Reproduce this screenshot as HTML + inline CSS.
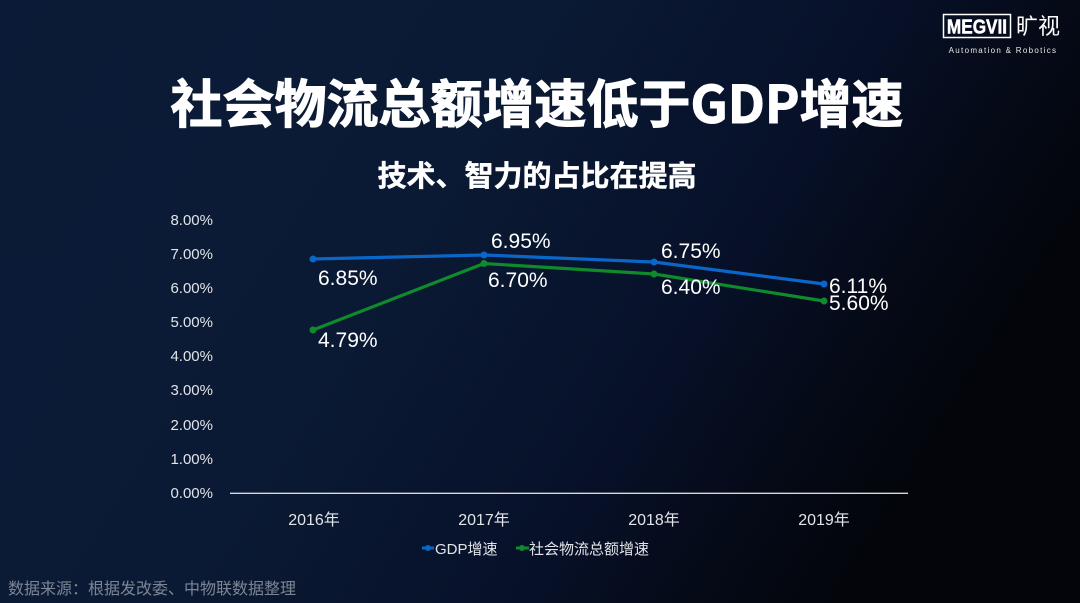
<!DOCTYPE html>
<html><head><meta charset="utf-8"><style>
html,body{margin:0;padding:0;}
body{width:1080px;height:603px;overflow:hidden;background:#0b1a35;}
svg{display:block;font-family:"Liberation Sans","Noto Sans CJK SC",sans-serif;}
</style></head><body>
<svg width="1080" height="603" viewBox="0 0 1080 603" xmlns="http://www.w3.org/2000/svg">
<defs>
<linearGradient id="bg" x1="0" y1="0" x2="1" y2="0.35">
<stop offset="0" stop-color="#0b1b37"/>
<stop offset="0.45" stop-color="#0b1a34"/>
<stop offset="0.72" stop-color="#07112a" />
<stop offset="0.88" stop-color="#050a17"/>
<stop offset="1" stop-color="#03050b"/>
</linearGradient>
</defs>
<rect width="1080" height="603" fill="url(#bg)"/>

<!-- logo -->
<rect x="943.5" y="14.5" width="67" height="23" fill="none" stroke="#ffffff" stroke-width="1.5"/>
<text x="977" y="33.5" text-anchor="middle" fill="#fff" stroke="#fff" stroke-width="0.5" font-size="20" font-weight="bold" transform="translate(977 0) scale(0.86 1) translate(-977 0)">MEGVII</text>
<text x="1038" y="34" text-anchor="middle" fill="#fff" font-size="22" font-family="Noto Sans CJK SC, sans-serif">旷视</text>
<text x="1003" y="53" text-anchor="middle" fill="#e8e8e8" font-size="8" letter-spacing="1.3">Automation &amp; Robotics</text>

<!-- titles -->
<text x="537" y="123" text-anchor="middle" fill="#fff" stroke="#fff" stroke-width="1" font-size="52" font-weight="bold" font-family="Noto Sans CJK SC, sans-serif">社会物流总额增速低于GDP增速</text>
<text x="537" y="186" text-anchor="middle" fill="#fff" stroke="#fff" stroke-width="0.4" font-size="29" font-weight="bold" font-family="Noto Sans CJK SC, sans-serif">技术、智力的占比在提高</text>

<!-- y axis labels -->
<g fill="#e2e4e8" font-size="15" text-anchor="end">
<text x="213" y="225">8.00%</text>
<text x="213" y="259">7.00%</text>
<text x="213" y="293">6.00%</text>
<text x="213" y="327">5.00%</text>
<text x="213" y="361">4.00%</text>
<text x="213" y="395">3.00%</text>
<text x="213" y="430">2.00%</text>
<text x="213" y="464">1.00%</text>
<text x="213" y="498">0.00%</text>
</g>

<line x1="230" y1="493.3" x2="908" y2="493.3" stroke="#d9d9d9" stroke-width="1.3"/>

<!-- category labels -->
<g fill="#e2e4e8" font-size="16" text-anchor="middle">
<text x="314" y="525">2016年</text>
<text x="484" y="525">2017年</text>
<text x="654" y="525">2018年</text>
<text x="824" y="525">2019年</text>
</g>

<!-- series -->
<polyline points="313,259 484,255 654,262 824,284" fill="none" stroke="#0a66c8" stroke-width="3.2" stroke-linejoin="round"/>
<g fill="#0a66c8">
<circle cx="313" cy="259" r="3.5"/><circle cx="484" cy="255" r="3.5"/><circle cx="654" cy="262" r="3.5"/><circle cx="824" cy="284" r="3.5"/>
</g>
<polyline points="313,330 484,263.5 654,274 824,301" fill="none" stroke="#0f8a2c" stroke-width="3.2" stroke-linejoin="round"/>
<g fill="#0f8a2c">
<circle cx="313" cy="330" r="3.5"/><circle cx="484" cy="263.5" r="3.5"/><circle cx="654" cy="274" r="3.5"/><circle cx="824" cy="301" r="3.5"/>
</g>

<!-- data labels -->
<g fill="#ffffff" font-size="21">
<text x="318" y="285">6.85%</text>
<text x="491" y="248">6.95%</text>
<text x="661" y="258">6.75%</text>
<text x="829" y="293">6.11%</text>
<text x="318" y="347">4.79%</text>
<text x="488" y="287">6.70%</text>
<text x="661" y="294">6.40%</text>
<text x="829" y="310">5.60%</text>
</g>

<!-- legend -->
<line x1="422" y1="548" x2="434" y2="548" stroke="#0a66c8" stroke-width="3"/>
<circle cx="428" cy="548" r="3" fill="#0a66c8"/>
<text x="435" y="554" fill="#e2e4e8" font-size="15">GDP增速</text>
<line x1="516" y1="548" x2="529" y2="548" stroke="#0f8a2c" stroke-width="3"/>
<circle cx="522" cy="548" r="3" fill="#0f8a2c"/>
<text x="529" y="554" fill="#e2e4e8" font-size="15">社会物流总额增速</text>

<!-- source -->
<text x="8" y="594" fill="#7c8594" font-size="16">数据来源：根据发改委、中物联数据整理</text>
</svg>
</body></html>
